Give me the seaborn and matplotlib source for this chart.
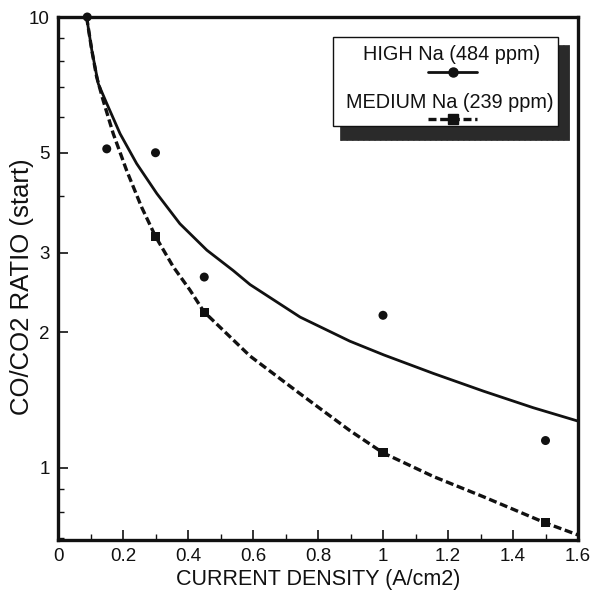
import numpy as np
import pandas as pd
import matplotlib
matplotlib.use('Agg')
import matplotlib.pyplot as plt
import seaborn as sns
from matplotlib.patches import Rectangle
from matplotlib.lines import Line2D
from matplotlib.ticker import FixedLocator, FixedFormatter, NullFormatter

# ---- data ----
high_x = [0.09, 0.15, 0.3, 0.45, 1.0, 1.5]
high_y = [10.0, 5.1, 5.0, 2.65, 2.18, 1.15]
med_x = [0.3, 0.45, 1.0, 1.5]
med_y = [3.26, 2.21, 1.08, 0.755]

high_fit_x = [0.088, 0.104, 0.124, 0.150, 0.191, 0.242, 0.304, 0.375, 0.458, 0.539,
              0.591, 0.745, 0.898, 1.003, 1.155, 1.309, 1.462, 1.6]
high_fit_y = [10.0, 8.44, 7.11, 6.43, 5.51, 4.73, 4.06, 3.48, 3.04, 2.74,
              2.55, 2.16, 1.91, 1.78, 1.62, 1.48, 1.36, 1.27]
med_fit_x = [0.088, 0.104, 0.119, 0.139, 0.170, 0.211, 0.257, 0.30, 0.355, 0.406,
             0.449, 0.591, 0.745, 0.898, 1.0, 1.155, 1.309, 1.5, 1.6]
med_fit_y = [10.0, 8.44, 7.36, 6.53, 5.51, 4.57, 3.79, 3.26, 2.79, 2.48,
             2.22, 1.77, 1.46, 1.21, 1.08, 0.957, 0.863, 0.755, 0.71]

x_ticks = [0, 0.2, 0.4, 0.6, 0.8, 1.0, 1.2, 1.4, 1.6]
x_tick_labels = ['0', '0.2', '0.4', '0.6', '0.8', '1', '1.2', '1.4', '1.6']
x_minor = [0.1, 0.3, 0.5, 0.7, 0.9, 1.1, 1.3, 1.5]
y_ticks = [1, 2, 3, 5, 10]
y_tick_labels = ['1', '2', '3', '5', '10']
y_minor = [0.7, 0.8, 0.9, 4, 6, 7, 8, 9]
legend_labels = ['HIGH Na (484 ppm)', 'MEDIUM Na (239 ppm)']
x_label = 'CURRENT DENSITY (A/cm2)'
y_label = 'CO/CO2 RATIO (start)'

sns.set_theme(style='ticks')
plt.rcParams['font.family'] = ['Liberation Sans', 'DejaVu Sans']

INK = '#111111'
DASH = (0, (2.4, 1.1))

fig = plt.figure(figsize=(5.96, 5.96), dpi=100)
ax = fig.add_axes([58/596, 56/596, 520/596, 523/596])
ax.set_yscale('log')

df_hf = pd.DataFrame({'x': high_fit_x, 'y': high_fit_y})
df_mf = pd.DataFrame({'x': med_fit_x, 'y': med_fit_y})
df_h = pd.DataFrame({'x': high_x, 'y': high_y})
df_m = pd.DataFrame({'x': med_x, 'y': med_y})

sns.lineplot(data=df_hf, x='x', y='y', ax=ax, color=INK, lw=2.0, sort=False)
sns.lineplot(data=df_mf, x='x', y='y', ax=ax, color=INK, lw=2.4, sort=False,
             linestyle=DASH)
sns.scatterplot(data=df_h, x='x', y='y', ax=ax, color=INK, marker='o', s=42,
                edgecolor='none', clip_on=False, zorder=5)
sns.scatterplot(data=df_m, x='x', y='y', ax=ax, color=INK, marker='s', s=42,
                edgecolor='none', clip_on=False, zorder=5)

ax.set_xlim(0, 1.6)
ax.set_ylim(0.692, 10)

ax.xaxis.set_major_locator(FixedLocator(x_ticks))
ax.xaxis.set_major_formatter(FixedFormatter(x_tick_labels))
ax.xaxis.set_minor_locator(FixedLocator(x_minor))
ax.yaxis.set_major_locator(FixedLocator(y_ticks))
ax.yaxis.set_major_formatter(FixedFormatter(y_tick_labels))
ax.yaxis.set_minor_locator(FixedLocator(y_minor))
ax.yaxis.set_minor_formatter(NullFormatter())

ax.tick_params(axis='both', which='major', direction='in', length=7, width=1.2,
               labelsize=13.5, colors=INK, pad=6)
ax.tick_params(axis='both', which='minor', direction='in', length=4, width=1.0,
               colors=INK)
for sp in ax.spines.values():
    sp.set_visible(True)
    sp.set_linewidth(2.4)
    sp.set_color(INK)

ax.set_xlabel(x_label, fontsize=15.5, color=INK, labelpad=3)
ax.set_ylabel(y_label, fontsize=18.5, color=INK)
ax.yaxis.set_label_coords(-0.046, 0.484)

# ---- legend box with shadow ----
def ax_pt(px, py):
    return ((px - 58) / 520, (540 - py) / 523)

sx0, sy0 = ax_pt(340, 140)
sx1, sy1 = ax_pt(569, 45)
ax.add_patch(Rectangle((sx0, sy0), sx1 - sx0, sy1 - sy0, transform=ax.transAxes,
                       facecolor='#2a2a2a', edgecolor='#2a2a2a', hatch='|||', lw=0.5,
                       zorder=8, clip_on=False))
bx0, by0 = ax_pt(333, 126)
bx1, by1 = ax_pt(558, 37)
ax.add_patch(Rectangle((bx0, by0), bx1 - bx0, by1 - by0, transform=ax.transAxes,
                       facecolor='white', edgecolor=INK, lw=1.0, zorder=9,
                       clip_on=False))
tx, ty = ax_pt(452, 54)
ax.text(tx, ty, legend_labels[0], transform=ax.transAxes, ha='center', va='center',
        fontsize=14.3, color=INK, zorder=10)
tx, ty = ax_pt(450, 102)
ax.text(tx, ty, legend_labels[1], transform=ax.transAxes, ha='center', va='center',
        fontsize=14.3, color=INK, zorder=10)
lx0, ly = ax_pt(428, 72)
lx1, _ = ax_pt(477, 72)
ax.add_line(Line2D([lx0, lx1], [ly, ly], transform=ax.transAxes, color=INK, lw=2.0,
                   zorder=10))
ax.add_line(Line2D([(lx0 + lx1) / 2], [ly], transform=ax.transAxes, color=INK,
                   marker='o', markersize=6.5, zorder=11))
lx0, ly = ax_pt(428, 119)
lx1, _ = ax_pt(477, 119)
ax.add_line(Line2D([lx0, lx1], [ly, ly], transform=ax.transAxes, color=INK, lw=2.4,
                   linestyle=DASH, zorder=10))
ax.add_line(Line2D([(lx0 + lx1) / 2], [ly], transform=ax.transAxes, color=INK,
                   marker='s', markersize=6.5, zorder=11))

fig.savefig('out.png', dpi=100, facecolor='white')
